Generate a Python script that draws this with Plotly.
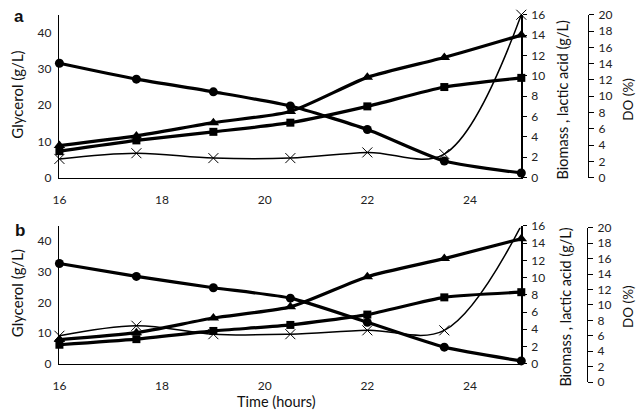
import plotly.graph_objects as go

W, H = 638, 416

time = [16, 17.5, 19, 20.5, 22, 23.5, 25]

# Panel a
glycerol_a = [31.6, 27.2, 23.7, 19.8, 13.3, 4.6, 1.3]
biomass_a = [3.15, 4.1, 5.4, 6.5, 9.85, 11.8, 14.0]      # triangles
lactic_a = [2.6, 3.66, 4.5, 5.4, 7.0, 8.9, 9.8]          # squares
do_a = [2.3, 3.0, 2.4, 2.4, 3.1, 2.9, 20.0]

# Panel b
glycerol_b = [32.7, 28.5, 24.8, 21.4, 13.5, 5.4, 0.9]
biomass_b = [2.8, 3.6, 5.3, 6.6, 10.1, 12.2, 14.5]
lactic_b = [2.2, 2.85, 3.8, 4.5, 5.7, 7.7, 8.3]
do_b = [6.0, 7.3, 6.2, 6.2, 6.7, 6.7, 20.3]

x_ticks = [16, 18, 20, 22, 24]

FONT = "Lato, 'Open Sans', sans-serif"
TICKFONT = dict(family=FONT, size=12, color="#222")


def px(x):
    return x / W


def py(y):
    return 1 - y / H


fig = go.Figure()

thick = dict(color="black", width=3.2, shape="spline", smoothing=0.6)
thin = dict(color="black", width=1.5, shape="spline", smoothing=1.0)


def add_panel(gly, bio, lac, do, xa, yg, yb, yd):
    fig.add_trace(go.Scatter(x=time, y=gly, xaxis=xa, yaxis=yg, mode="lines+markers",
                             line=thick, marker=dict(symbol="circle", size=9, color="black"),
                             showlegend=False, cliponaxis=False))
    fig.add_trace(go.Scatter(x=time, y=bio, xaxis=xa, yaxis=yb, mode="lines+markers",
                             line=thick, marker=dict(symbol="triangle-up", size=10, color="black"),
                             showlegend=False, cliponaxis=False))
    fig.add_trace(go.Scatter(x=time, y=lac, xaxis=xa, yaxis=yb, mode="lines+markers",
                             line=thick, marker=dict(symbol="square", size=8, color="black"),
                             showlegend=False, cliponaxis=False))
    fig.add_trace(go.Scatter(x=time, y=do, xaxis=xa, yaxis=yd, mode="lines+markers",
                             line=thin, marker=dict(symbol="x-thin-open", size=10,
                                                    line=dict(color="black", width=1)),
                             showlegend=False, cliponaxis=False))


add_panel(glycerol_a, biomass_a, lactic_a, do_a, "x", "y", "y2", "y3")
add_panel(glycerol_b, biomass_b, lactic_b, do_b, "x2", "y4", "y5", "y6")

xdom = [px(53), px(520)]
axline = dict(showline=True, linecolor="black", linewidth=1.5, showgrid=False,
              zeroline=False, tickfont=TICKFONT)

dom_a = [py(176), py(7)]
dom_b = [py(369), py(226)]
dom_do_b = [py(388), py(228)]

fig.update_layout(
    width=W, height=H,
    margin=dict(l=0, r=0, t=0, b=0),
    paper_bgcolor="white", plot_bgcolor="rgba(0,0,0,0)",
    font=dict(family=FONT, color="#222"),
    hovermode=False,
    xaxis=dict(domain=xdom, range=[16, 25], anchor="y", tickvals=x_ticks,
               ticks="", ticklabelstandoff=10, **axline),
    yaxis=dict(domain=dom_a, range=[0, 45], dtick=10, anchor="x", ticks="",
               ticklabelstandoff=4, **axline),
    yaxis2=dict(overlaying="y", side="right", anchor="x", range=[0, 16], dtick=2,
                ticks="outside", ticklen=4, tickcolor="black", tickwidth=1,
                ticklabelstandoff=2, **axline),
    yaxis3=dict(domain=dom_a, anchor="free", position=px(587), side="right",
                range=[0, 20], dtick=2, ticks="outside", ticklen=5, tickcolor="black",
                tickwidth=1, ticklabelstandoff=2, **axline),
    xaxis2=dict(domain=xdom, range=[16, 25], anchor="y4", tickvals=x_ticks,
                ticks="", ticklabelstandoff=10, **axline),
    yaxis4=dict(domain=dom_b, range=[0, 45], dtick=10, anchor="x2", ticks="",
                ticklabelstandoff=4, **axline),
    yaxis5=dict(overlaying="y4", side="right", anchor="x2", range=[0, 16], dtick=2,
                ticks="outside", ticklen=4, tickcolor="black", tickwidth=1,
                ticklabelstandoff=2, **axline),
    yaxis6=dict(domain=dom_do_b, anchor="free", position=px(586), side="right",
                range=[0, 20], dtick=2, ticks="outside", ticklen=5, tickcolor="black",
                tickwidth=1, ticklabelstandoff=2, **axline),
)

ann = []


def text(x, y, s, size=13, angle=0, bold=False, family=FONT):
    ann.append(dict(x=px(x), y=py(y), xref="paper", yref="paper", text=("<b>%s</b>" % s) if bold else s,
                    showarrow=False, textangle=angle, xanchor="center", yanchor="middle",
                    borderpad=0, font=dict(family=family, size=size, color="#111")))


ARIAL = "Arial, 'Liberation Sans', sans-serif"
text(12, 9, "a", size=17, bold=True, family=ARIAL)
text(13, 231, "b", size=17, bold=True, family=ARIAL)
text(10, 90, "Glycerol (g/L)", size=15, angle=-90)
text(10, 296, "Glycerol (g/L)", size=15, angle=-90)
text(562, 95, "Biomass , lactic acid (g/L)", size=14.5, angle=-90)
text(565, 310, "Biomass , lactic acid (g/L)", size=14.5, angle=-90)
text(627, 95, "DO (%)", size=13.5, angle=-90)
text(628, 310, "DO (%)", size=13.5, angle=-90)
text(272, 408, "Time (hours)", size=14.5)

fig.update_layout(annotations=ann)

fig.write_html("out.html", config={"displayModeBar": False, "staticPlot": True},
               post_script="document.body.style.margin='0px';document.body.style.overflow='hidden';")
